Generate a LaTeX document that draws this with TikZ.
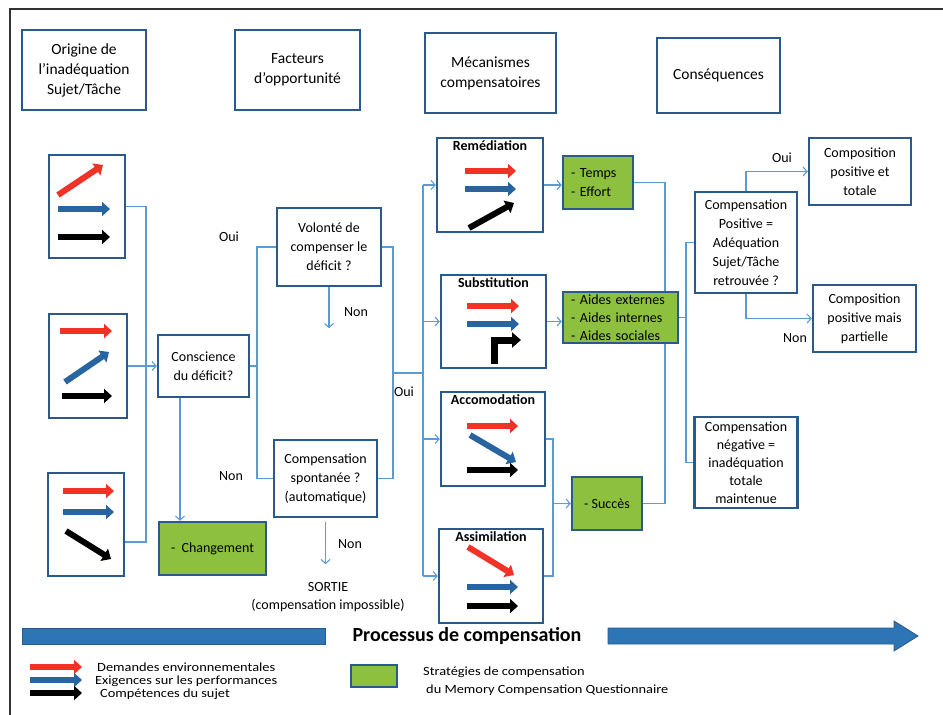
\documentclass[tikz,border=0pt]{standalone}
\usepackage{fontspec}
\setmainfont{Carlito}
\newfontfamily\legfont[FakeStretch=1.15]{Carlito}
\usetikzlibrary{arrows.meta,calc}
\definecolor{boxblue}{RGB}{42,90,140}
\definecolor{connblue}{RGB}{91,155,213}
\definecolor{stratgreen}{RGB}{140,192,62}
\definecolor{icred}{RGB}{240,50,40}
\definecolor{icblue}{RGB}{40,100,160}
\definecolor{barblue}{RGB}{46,117,182}
\definecolor{barborder}{RGB}{40,90,140}
\definecolor{framegray}{RGB}{50,50,50}
\pgfdeclarelayer{bg}
\pgfsetlayers{bg,main}
\tikzset{
 box/.style={draw=boxblue, line width=2.4pt, fill=white, align=center, inner sep=0pt, font=\fontsize{14}{19}\selectfont},
 hbox/.style={box, font=\fontsize{15.5}{20}\selectfont},
 gbox/.style={box, fill=stratgreen},
 conn/.style={draw=connblue, line width=1.3pt},
 conna/.style={conn, -{Straight Barb[length=4pt,width=9pt,line width=1.1pt]}},
 lbl/.style={font=\fontsize{14}{17}\selectfont, inner sep=0pt},
 mtitle/.style={font=\bfseries\fontsize{14}{17}\selectfont, inner sep=0pt, anchor=north},
 ic/.style={line width=6pt, -{Triangle[length=8pt,width=14pt]}},
 leg/.style={font=\legfont\fontsize{12.5}{14}\selectfont, inner sep=0pt, anchor=west},
}
\begin{document}
\begin{tikzpicture}[x=1pt, y=-1pt]
\useasboundingbox (0,0) rectangle (943,715);
\draw[framegray, line width=2pt] (10,715) -- (10,9) -- (943,9);

% headers
\node[hbox, minimum width=124pt, minimum height=80pt] (h1) at (84,70) {Origine de\\l’inadéquation\\Sujet/Tâche};
\node[hbox, minimum width=125pt, minimum height=80pt] (h2) at (297.5,70) {Facteurs\\d’opportunité};
\node[hbox, minimum width=131pt, minimum height=80pt] (h3) at (490.5,73) {Mécanismes\\compensatoires};
\node[hbox, minimum width=123pt, minimum height=75pt] (h4) at (718.5,75.5) {Conséquences};

% left icon boxes
\node[box, minimum width=76pt, minimum height=103pt] (b1) at (87,206.5) {};
\node[box, minimum width=78pt, minimum height=104pt] (b2) at (88,366) {};
\node[box, minimum width=76pt, minimum height=103pt] (b3) at (86,524.5) {};

\node[box, minimum width=91pt, minimum height=62pt] (consc) at (203.5,366) {Conscience\\du déficit?};
\node[gbox, minimum width=107pt, minimum height=53pt] (chg) at (212.5,548.5) {-\ \ Changement};
\node[box, minimum width=104pt, minimum height=78pt] (vol) at (329,247) {Volonté de\\compenser le\\déficit ?};
\node[box, minimum width=103pt, minimum height=77pt] (spont) at (325.5,478.5) {Compensation\\spontanée ?\\(automatique)};

% mechanisms
\node[box, minimum width=106pt, minimum height=94pt] (rem) at (490,185) {};
\node[box, minimum width=105pt, minimum height=93pt] (sub) at (493.5,321.5) {};
\node[box, minimum width=104pt, minimum height=94pt] (acc) at (493,439) {};
\node[box, minimum width=104pt, minimum height=94pt] (ass) at (491,576) {};
\node[mtitle] (remT) at ([yshift=-4pt]rem.north) {Remédiation};
\node[mtitle] (subT) at ([yshift=-4pt]sub.north) {Substitution};
\node[mtitle] (accT) at ([yshift=-4pt]acc.north) {Accomodation};
\node[mtitle] (assT) at ([yshift=-4pt]ass.north) {Assimilation};

% strategies
\node[gbox, align=left, text width=54pt, inner xsep=8pt, minimum height=53pt] (temps) at (598,182.5) {- Temps\\- Effort};
\node[gbox, align=left, text width=99pt, inner xsep=8pt, minimum height=51pt, font=\fontsize{14}{18}\selectfont] (aides) at (620.5,317.5) {- Aides externes\\- Aides internes\\- Aides sociales};
\node[gbox, minimum width=70pt, minimum height=53pt] (succes) at (607,503.5) {- Succès};

% consequences
\node[box, minimum width=102pt, minimum height=101pt] (cp) at (746,242.5) {Compensation\\Positive =\\Adéquation\\Sujet/Tâche\\retrouvée ?};
\node[box, minimum width=102pt, minimum height=67pt] (cpt) at (860,171.5) {Composition\\positive et\\totale};
\node[box, minimum width=103pt, minimum height=67pt] (cpp) at (864.5,318.5) {Composition\\positive mais\\partielle};
\node[box, minimum width=103pt, minimum height=91pt, font=\fontsize{14}{18}\selectfont] (cn) at (746,462.5) {Compensation\\négative =\\inadéquation\\totale\\maintenue};

% labels
\node[lbl] (oui1) at (229,237) {Oui};
\node[lbl] (non1) at (231,476) {Non};
\node[lbl] (non2) at (356,312) {Non};
\node[lbl] (non3) at (350,544) {Non};
\node[lbl] (oui2) at (404,392) {Oui};
\node[lbl] (oui3) at (782,158) {Oui};
\node[lbl] (non4) at (795,338) {Non};
\node[lbl, align=center, font=\fontsize{14}{18}\selectfont] (sortie) at (328,597) {SORTIE\\(compensation impossible)};

% coordinates
\coordinate (spineL) at (146,366);
\coordinate (forkA) at (257,366);
\coordinate (forkB) at (393,373);
\coordinate (spineM) at (423,373);
\coordinate (spineS) at (553,503.5);
\coordinate (spineR) at (665,400);
\coordinate (spineC) at (686,318);

\begin{pgfonlayer}{bg}
\draw[conn] (b1.east) -| (spineL) |- ([yshift=-17.5pt]b3.east);
\draw[conna] (b2.east) -- (consc.west);
\draw[conna] ([xshift=-23.5pt]consc.south) -- ([xshift=-23.5pt]consc.south |- chg.north);
\draw[conn] (consc.east) -- (forkA);
\draw[conn] (vol.west) -| (forkA) |- (spont.west);
\draw[conna] (vol.south) -- ++(0,41);
\draw[conna] ([yshift=-4pt]spont.south) -- ++(0,42);
\draw[conn] (vol.east) -| (forkB) |- (spont.east);
\draw[conn] (forkB) -- (spineM);
\draw[conn] (rem.west -| spineM) -- (ass.west -| spineM);
\draw[conna] (rem.west -| spineM) -- (rem.west);
\draw[conna] (sub.west -| spineM) -- (sub.west);
\draw[conna] (acc.west -| spineM) -- (acc.west);
\draw[conna] (ass.west -| spineM) -- (ass.west);
\draw[conna] (rem.east) -- (rem.east -| temps.west);
\draw[conna] (sub.east) -- (sub.east -| aides.west);
\draw[conn] (temps.east) -| (spineR) |- (succes.east);
\draw[conn] (acc.east) -| (spineS) |- (ass.east);
\draw[conna] (spineS) -- (succes.west);
\draw[conn] (aides.east) -- (aides.east -| spineC);
\draw[conn] (cp.west) -| (spineC) |- (cn.west);
\draw[conna] (cp.north) |- (cpt.west);
\draw[conna] (cp.south) |- (cpp.west);
\end{pgfonlayer}

% icons
\draw[ic, icred] (58,195) -- (103,165);
\draw[ic, icblue] (58,209) -- (110,209);
\draw[ic, black] (58,237) -- (110,237);
\draw[ic, icred] (60,331) -- (112,331);
\draw[ic, icblue] (65,382) -- (109,352);
\draw[ic, black] (62,396) -- (112,396);
\draw[ic, icred] (63,491) -- (114,491);
\draw[ic, icblue] (63,512) -- (114,512);
\draw[ic, black] (66,531) -- (111,559);
\draw[ic, icred] (465,171) -- (516,171);
\draw[ic, icblue] (465,189) -- (516,189);
\draw[ic, black] (469,228) -- (514,203);
\draw[ic, icred] (467,306) -- (519,306);
\draw[ic, icblue] (467,324) -- (519,324);
\draw[black, line width=7pt, -{Triangle[length=9pt,width=15pt]}] (494,364) -- (494,340) -- (521,340);
\draw[ic, icred] (467,426) -- (518,426);
\draw[ic, icblue] (470,435) -- (516,462);
\draw[ic, black] (467,470) -- (518,470);
\draw[ic, icred] (468,547) -- (514,575);
\draw[ic, icblue] (467,587) -- (518,587);
\draw[ic, black] (467,606) -- (518,606);

% process bar
\fill[barblue, draw=barborder, line width=0.8pt] (22,628) rectangle (325,644);
\fill[barblue, draw=barborder, line width=0.8pt] (608,628) -- (894,628) -- (894,621) -- (918,636) -- (894,651) -- (894,644) -- (608,644) -- cycle;
\node[font=\bfseries\fontsize{20}{24}\selectfont, inner sep=0pt] (proc) at (467,636) {Processus de compensation};

% legend
\draw[ic, icred] (30,667) -- (82,667);
\draw[ic, icblue] (30,680) -- (82,680);
\draw[ic, black] (30,693) -- (82,693);
\node[leg] (l1) at (97,667) {Demandes environnementales};
\node[leg] (l2) at (95,681) {Exigences sur les performances};
\node[leg] (l3) at (100,694) {Compétences du sujet};
\node[gbox, minimum width=46pt, minimum height=22pt, line width=1.5pt] (leggreen) at (374,676) {};
\node[leg] (l4) at (423,672) {Stratégies de compensation};
\node[leg] (l5) at (426,690) {du Memory Compensation Questionnaire};
\end{tikzpicture}
\end{document}
